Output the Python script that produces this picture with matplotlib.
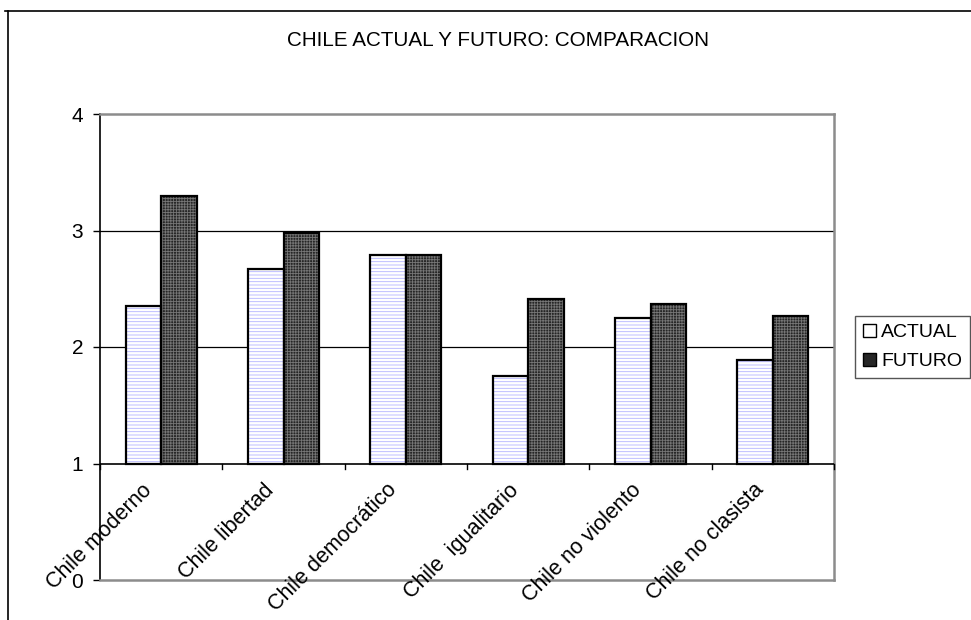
import matplotlib.pyplot as plt
from matplotlib.patches import Patch
from matplotlib.lines import Line2D
import numpy as np

categories = ["Chile moderno", "Chile libertad", "Chile democrático",
              "Chile  igualitario", "Chile no violento", "Chile no clasista"]
actual = [2.35, 2.67, 2.79, 1.75, 2.25, 1.89]
futuro = [3.30, 2.98, 2.79, 2.41, 2.37, 2.27]
y_ticks = [0, 1, 2, 3, 4]

plt.rcParams['font.family'] = ['Liberation Sans', 'DejaVu Sans']
plt.rcParams['hatch.linewidth'] = 0.6

fig = plt.figure(figsize=(9.71, 6.2), dpi=100)
ax = fig.add_axes([100 / 971, 1 - 580 / 620, 734 / 971, 466 / 620])

x = np.arange(len(categories))
w = 0.29
base = 1.0

act_h = [v - base for v in actual]
fut_h = [v - base for v in futuro]

act_style = dict(color='white', edgecolor='#b4b4ff', hatch='-----')
fut_style = dict(color='#262626', edgecolor='#767676', hatch='++++++')

# hatched fills (hatch colour follows edgecolor), then black outlines on top
ax.bar(x - w / 2, act_h, w, bottom=base, linewidth=0, zorder=3, **act_style)
ax.bar(x + w / 2, fut_h, w, bottom=base, linewidth=0, zorder=3, **fut_style)
ax.bar(x - w / 2, act_h, w, bottom=base, fill=False, edgecolor='black',
       linewidth=1.6, zorder=4)
ax.bar(x + w / 2, fut_h, w, bottom=base, fill=False, edgecolor='black',
       linewidth=1.6, zorder=4)

ax.set_xlim(-0.5, len(categories) - 0.5)
ax.set_ylim(0, 4)

# gridlines and the category axis which sits at y=1
for yv in [2, 3]:
    ax.axhline(yv, color='black', linewidth=0.9, zorder=1)
ax.axhline(1, color='black', linewidth=1.2, zorder=5)
for b in np.arange(-0.5, len(categories), 1.0):
    ax.plot([b, b], [1, 1 - 0.045], color='black', linewidth=1.0,
            clip_on=False, zorder=5)

ax.spines['left'].set_color('black')
ax.spines['left'].set_linewidth(1.2)
for s in ['top', 'right', 'bottom']:
    ax.spines[s].set_color('#8c8c8c')
    ax.spines[s].set_linewidth(1.8)

ax.set_yticks(y_ticks)
ax.set_yticklabels([str(t) for t in y_ticks], fontsize=15)
ax.tick_params(axis='y', length=5, width=1.0, color='black', pad=7)
ax.set_xticks([])

# category labels, rotated, hanging below the y=1 axis
for xi, lab in zip(x, categories):
    ax.annotate(lab, xy=(xi, 1), xycoords='data', xytext=(-9, -17),
                textcoords='offset points', rotation=45, ha='right', va='center',
                rotation_mode='anchor', fontsize=15.5)

fig.text(498 / 971, 1 - 40 / 620, "CHILE ACTUAL Y FUTURO: COMPARACION",
         ha='center', va='center', fontsize=14.9)

# outer chart border (cut off at the right and bottom edges)
fig.add_artist(Line2D([8 / 971, 8 / 971], [0, 1 - 11 / 620], color='black',
                      linewidth=1.2, transform=fig.transFigure))
fig.add_artist(Line2D([5 / 971, 1], [1 - 11 / 620, 1 - 11 / 620], color='black',
                      linewidth=1.2, transform=fig.transFigure))

h_act = (Patch(linewidth=0, **act_style),
         Patch(fill=False, edgecolor='black', linewidth=1.0))
h_fut = (Patch(linewidth=0, **fut_style),
         Patch(fill=False, edgecolor='black', linewidth=1.0))
leg = fig.legend([h_act, h_fut], ["ACTUAL", "FUTURO"], loc='center left',
                 bbox_to_anchor=(855 / 971, 1 - 347 / 620), fontsize=14,
                 frameon=True, fancybox=False, edgecolor='#555555', framealpha=1,
                 handlelength=0.7, handleheight=0.7, handletextpad=0.25,
                 borderpad=0.4, labelspacing=0.6, borderaxespad=0)
leg.get_frame().set_linewidth(1.0)

fig.savefig("out.png", dpi=100)
